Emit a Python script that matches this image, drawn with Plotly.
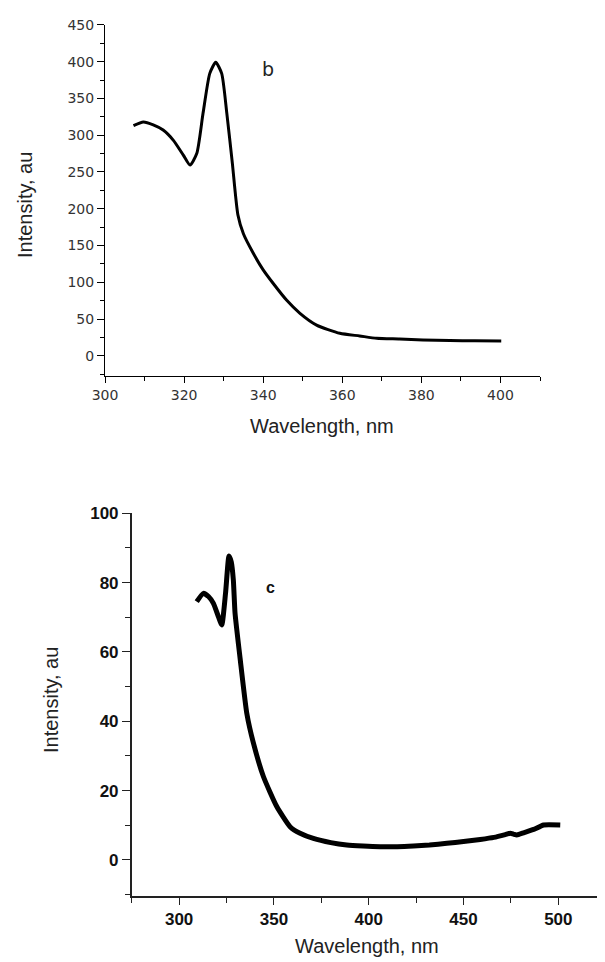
import plotly.graph_objects as go

# Panel b data
b_wavelength = [307.2, 309.7, 312.2, 314.7, 317.3, 319.8, 321.5, 323.2, 324.8, 326.5, 328.0,
                329.5, 330.8, 332.2, 333.6, 335.0, 337.5, 340.0, 342.5, 345.9, 349.3,
                353.5, 359.4, 364.4, 368.7, 374.5, 380.4, 387.2, 393.5, 400.2]
b_intensity = [313, 318, 314, 307, 293, 273, 259.5, 275, 330, 384, 399,
               384, 330, 262, 192, 166, 139.5, 117, 98.8, 76, 58,
               42, 30.8, 27.2, 24, 23, 21.7, 21, 20.6, 20.4]

# Panel c data
c_wavelength = [309.3, 312.8, 315.5, 318.1, 320.7, 322.5, 324.5, 326.3, 327.5, 328.6, 329.5,
                332.2, 335.7, 339.2, 344.5, 351.5, 358.5, 363.8, 370.8, 380.0, 388.4,
                397.0, 406.0, 415.0, 423.6, 432.0, 441.2, 450.0, 458.8, 466.0, 472.0,
                474.6, 476.5, 478.1, 482.0, 487.0, 492.2, 501.0]
c_intensity = [74.5, 76.9, 76.0, 74.0, 70.2, 67.8, 77.0, 87.7, 86.0, 80.8, 71.2,
               58.0, 42.3, 33.7, 24.0, 15.4, 9.6, 7.7, 6.2, 5.0, 4.3,
               4.0, 3.8, 3.8, 4.0, 4.3, 4.8, 5.3, 5.9, 6.5, 7.3,
               7.7, 7.4, 7.2, 7.9, 8.8, 10.1, 10.1]

W, H = 605, 962
OFF = 8  # page body margin
def px(x):
    return (x - OFF) / W
def py(y):
    return 1 - (y - OFF) / H

fig = go.Figure()
fig.add_trace(go.Scatter(x=b_wavelength, y=b_intensity, mode="lines",
                         line=dict(color="black", width=3, shape="spline", smoothing=0.6),
                         xaxis="x", yaxis="y", showlegend=False))
fig.add_trace(go.Scatter(x=c_wavelength, y=c_intensity, mode="lines",
                         line=dict(color="black", width=5, shape="spline", smoothing=0.5),
                         xaxis="x2", yaxis="y2", showlegend=False))

top_tick_font = dict(family="DejaVu Sans", size=14, color="#333")
bot_tick_font = dict(family="Liberation Sans", size=17, color="#111", weight="bold")

fig.update_layout(
    width=W, height=H, autosize=False,
    margin=dict(l=0, r=0, t=0, b=0),
    paper_bgcolor="white", plot_bgcolor="white",
    xaxis=dict(domain=[px(105), px(540)], range=[300, 410], anchor="y", automargin=False,
               tick0=300, dtick=20, ticks="outside", ticklen=6, tickcolor="black",
               minor=dict(dtick=10, tick0=300, ticks="outside", ticklen=4, tickcolor="black"),
               showline=True, linecolor="black", linewidth=1, showgrid=False, zeroline=False,
               tickfont=top_tick_font),
    yaxis=dict(domain=[py(375.7), py(24.8)], range=[-26.8, 450], anchor="x", automargin=False,
               tick0=0, dtick=50, ticks="outside", ticklen=7, tickcolor="black",
               minor=dict(dtick=25, tick0=0, ticks="outside", ticklen=4, tickcolor="black"),
               showline=True, linecolor="black", linewidth=1, showgrid=False, zeroline=False,
               tickfont=top_tick_font),
    xaxis2=dict(domain=[px(131.7), px(605)], range=[275, 524.6], anchor="y2", automargin=False,
                tick0=300, dtick=50, ticks="outside", ticklen=7, tickcolor="#222",
                minor=dict(dtick=25, tick0=275, ticks="outside", ticklen=5, tickcolor="#222"),
                showline=True, linecolor="#222", linewidth=1.5, showgrid=False, zeroline=False,
                tickfont=bot_tick_font),
    yaxis2=dict(domain=[py(896), py(513.3)], range=[-10.4, 100], anchor="x2", automargin=False,
                tick0=0, dtick=20, ticks="outside", ticklen=8, tickcolor="#222",
                minor=dict(dtick=10, tick0=0, ticks="outside", ticklen=5, tickcolor="#222"),
                showline=True, linecolor="#222", linewidth=1.5, showgrid=False, zeroline=False,
                tickfont=bot_tick_font),
)

title_font = dict(family="Liberation Sans", size=20, color="#222")
fig.add_annotation(text="Wavelength, nm", x=px(322), y=py(426), xref="paper", yref="paper",
                   showarrow=False, font=title_font, xanchor="center", yanchor="middle")
fig.add_annotation(text="Intensity, au", x=px(25), y=py(205), xref="paper", yref="paper",
                   showarrow=False, font=title_font, textangle=-90, xanchor="center", yanchor="middle")
fig.add_annotation(text="Wavelength, nm", x=px(367), y=py(946), xref="paper", yref="paper",
                   showarrow=False, font=title_font, xanchor="center", yanchor="middle")
fig.add_annotation(text="Intensity, au", x=px(51), y=py(700), xref="paper", yref="paper",
                   showarrow=False, font=title_font, textangle=-90, xanchor="center", yanchor="middle")

fig.add_annotation(text="b", x=341.2, y=390, xref="x", yref="y", showarrow=False,
                   font=dict(family="DejaVu Sans", size=19, color="#222"))
fig.add_annotation(text="c", x=348, y=78.5, xref="x2", yref="y2", showarrow=False,
                   font=dict(family="Liberation Sans", size=16, color="#111", weight="bold"))

fig.write_html("out.html")
